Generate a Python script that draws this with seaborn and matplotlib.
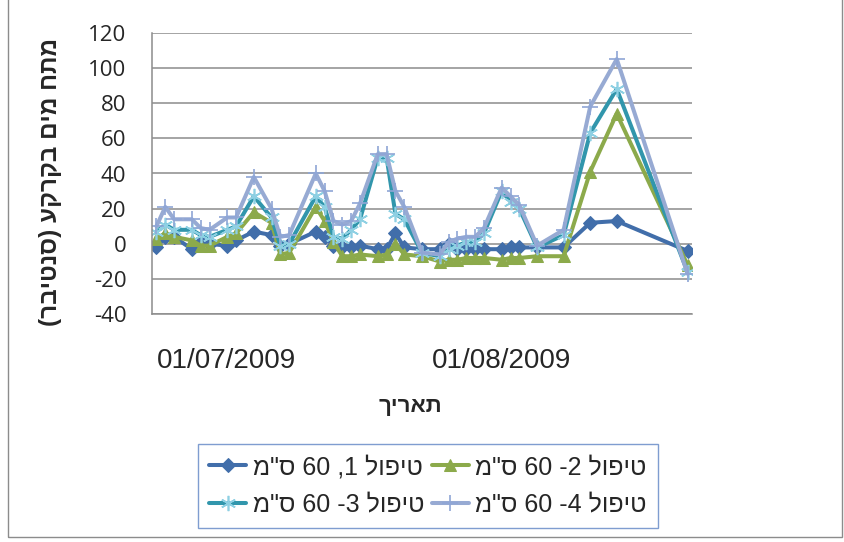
import pandas as pd
import seaborn as sns
import matplotlib.pyplot as plt
from matplotlib.patches import Rectangle
from matplotlib.transforms import ScaledTranslation

# Data
dates = [
    '2009-07-01', '2009-07-02', '2009-07-03', '2009-07-05', '2009-07-06', '2009-07-07',
    '2009-07-09', '2009-07-10', '2009-07-12', '2009-07-14', '2009-07-15', '2009-07-16',
    '2009-07-19', '2009-07-20', '2009-07-21', '2009-07-22', '2009-07-23', '2009-07-24',
    '2009-07-26', '2009-07-27', '2009-07-28', '2009-07-29', '2009-07-31',
    '2009-08-02', '2009-08-03', '2009-08-04', '2009-08-05', '2009-08-06', '2009-08-07',
    '2009-08-09', '2009-08-10', '2009-08-11', '2009-08-13', '2009-08-16', '2009-08-19',
    '2009-08-22', '2009-08-30',
]
treat1 = [-2, 4, 4, -3, 1, 0, -1, 2, 7, 5, -1, 0, 7, 4, -1, -2, -2, -1, -3, -3, 6, -2, -3,
          -3, 0, -3, -3, -3, -3, -3, -2, -2, -2, -2, 12, 13, -4]
treat2 = [3, 6, 4, 2, -1, -1, 4, 6, 18, 12, -6, -5, 21, 13, 1, -7, -7, -6, -7, -6, 0, -6, -7,
          -10, -9, -9, -8, -8, -8, -9, -8, -8, -7, -7, 41, 74, -12]
treat3 = [7, 11, 8, 8, 5, 4, 8, 10, 27, 15, -1, 0, 27, 21, 4, 3, 8, 14, 49, 49, 17, 14, -5,
          -7, -3, -1, 1, 1, 6, 30, 24, 20, -2, 5, 63, 88, -16]
treat4 = [10, 21, 14, 14, 9, 8, 15, 15, 38, 20, 4, 5, 40, 30, 13, 11, 13, 23, 51, 51, 30, 21, -5,
          -6, 1, 3, 4, 4, 9, 32, 27, 22, -1, 8, 78, 105, -17]

# Hebrew text in visual (left-to-right) order, matplotlib has no bidi support
series_labels = ['מ"ס 60 ,1 לופיט', 'מ"ס 60 -2 לופיט', 'מ"ס 60 -3 לופיט', 'מ"ס 60 -4 לופיט']
x_title = 'ךיראת'
y_title = '(רביטנס) עקרקב םימ חתמ'
month_ticks = ['2009-07-01', '2009-08-01']
month_labels = ['01/07/2009', '01/08/2009']

sns.set_theme(style='white')
plt.rcParams['font.family'] = ['Liberation Sans', 'DejaVu Sans']
plt.rcParams['axes.unicode_minus'] = False

x = pd.to_datetime(dates)
half_day = pd.Timedelta(hours=12)

fig = plt.figure(figsize=(8.45, 5.42), dpi=100)
ax = fig.add_axes([152 / 845, 1 - 314.3 / 542, 540 / 845, (314.3 - 32.7) / 542])

styles = [
    dict(color='#416EAA', marker='D', markersize=7, mfc='#416EAA', mec='#416EAA'),
    dict(color='#8CAA4B', marker='^', markersize=9, mfc='#8CAA4B', mec='#8CAA4B'),
    dict(color='#3196AC', marker=(6, 2, 0), markersize=11, mfc='none', mec='#8ED0E3', mew=1.2),
    dict(color='#97AAD3', marker='+', markersize=12, mec='#8FA6D6', mew=1.2),
]
handles = []
for vals, lab, st in zip([treat1, treat2, treat3, treat4], series_labels, styles):
    sns.lineplot(x=x, y=vals, ax=ax, linewidth=2.9, label=lab, **st)
    handles.append(ax.lines[-1])

ax.set_ylim(-40, 120)
ax.set_yticks(range(-40, 121, 20))
# excel-style date axis: each day sits in the middle of its slot
start = pd.Timestamp(month_ticks[0]) - half_day
ax.set_xlim(start, start + pd.Timedelta(days=61))
ax.set_xticks([pd.Timestamp(d) - half_day for d in month_ticks], labels=month_labels, ha='left')

ax.grid(axis='y', color='#8C8C8C', linewidth=1.1)
ax.grid(axis='x', visible=False)
for side in ['top', 'right']:
    ax.spines[side].set_visible(False)
for side in ['left', 'bottom']:
    ax.spines[side].set_color('#8C8C8C')
    ax.spines[side].set_linewidth(1.1)

ax.tick_params(axis='y', direction='out', length=4.5, width=1, color='#8C8C8C', pad=14,
               labelsize=16)
ax.tick_params(axis='x', direction='out', length=4.5, width=1, color='#8C8C8C', pad=20,
               labelsize=20)
for t in ax.get_yticklabels():
    t.set_fontfamily(['Open Sans', 'DejaVu Sans'])
shift = ScaledTranslation(5 / 100, 0, fig.dpi_scale_trans)
for t in ax.get_xticklabels():
    t.set_transform(t.get_transform() + shift)
ax.set_xlabel('')
ax.set_ylabel('')

fig.text(410 / 845, 1 - 406 / 542, x_title, ha='center', va='center', fontsize=16,
         fontweight='bold')
fig.text(51 / 845, 1 - 182.5 / 542, y_title, ha='center', va='center', rotation=90,
         fontsize=17.5, fontweight='bold')

if ax.get_legend() is not None:
    ax.get_legend().remove()
# ncol=2 fills column by column: treatments 1,3 left, 2,4 right
order = [0, 2, 1, 3]
leg = fig.legend([handles[i] for i in order], [series_labels[i] for i in order],
                 ncol=2, loc='center', bbox_to_anchor=(428 / 845, 1 - 486 / 542),
                 fontsize=18, frameon=True, fancybox=False, edgecolor='#7F9DD0',
                 framealpha=1, handlelength=1.5, handletextpad=0.25, columnspacing=0.3,
                 borderpad=0.45, labelspacing=0.55)
leg.get_frame().set_linewidth(1.0)

# outer chart border
fig.patches.append(Rectangle((8 / 845, 1 - 537 / 542), (842 - 8) / 845, 1.0,
                             transform=fig.transFigure, fill=False,
                             edgecolor='#8C8C8C', linewidth=1.0, clip_on=False))

fig.savefig('out.png', dpi=100)
